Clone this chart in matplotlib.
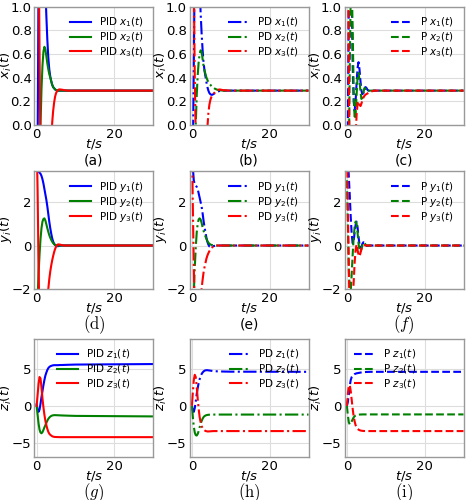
import matplotlib
matplotlib.use("Agg")
import matplotlib.pyplot as plt

plt.rcParams["font.size"] = 9.5
plt.rcParams["mathtext.fontset"] = "dejavusans"

# ______________________ time axis (s) ______________________
t = [0, 0.25, 0.5, 0.75, 1.0, 1.25, 1.5, 1.75, 2.0, 2.25, 2.5, 2.75, 3.0, 3.25,
     3.5, 3.75, 4.0, 4.25, 4.5, 4.75, 5.0, 5.25, 5.5, 5.75, 6.0, 6.5, 7.0, 7.5,
     8.0, 10.0, 30.0]

# ______________________ x_i(t) ______________________
pid_x1 = [-1.0, -0.2, 1.2, 2.0, 2.4, 2.5, 2.3, 1.9, 1.5, 1.15, 0.92, 0.72, 0.57, 0.47,
          0.41, 0.37, 0.34, 0.32, 0.31, 0.30, 0.295, 0.292, 0.29, 0.29, 0.29, 0.29,
          0.29, 0.29, 0.29, 0.29, 0.29]
pid_x2 = [-2.0, -1.6, -1.0, -0.4, 0.0, 0.3, 0.5, 0.62, 0.66, 0.64, 0.58, 0.52, 0.47, 0.43,
          0.40, 0.37, 0.34, 0.32, 0.31, 0.30, 0.295, 0.292, 0.29, 0.29, 0.29, 0.29,
          0.29, 0.29, 0.29, 0.29, 0.29]
pid_x3 = [3.0, 2.5, 1.6, 0.6, -0.3, -1.2, -1.8, -2.2, -2.3, -2.2, -2.0, -1.6, -1.3, -0.9,
          -0.5, -0.2, 0.02, 0.12, 0.19, 0.24, 0.27, 0.285, 0.295, 0.30, 0.30, 0.298,
          0.295, 0.292, 0.29, 0.29, 0.29]

pd_x1 = [-1.0, -0.3, 0.5, 1.4, 2.0, 2.2, 2.0, 1.6, 1.2, 0.95, 0.78, 0.64, 0.53, 0.46,
         0.41, 0.36, 0.32, 0.29, 0.27, 0.26, 0.255, 0.255, 0.26, 0.265, 0.27, 0.28,
         0.286, 0.29, 0.29, 0.29, 0.29]
pd_x2 = [-2.0, -1.6, -1.1, -0.5, 0.0, 0.25, 0.42, 0.53, 0.6, 0.63, 0.62, 0.56, 0.5, 0.46,
         0.43, 0.40, 0.38, 0.36, 0.35, 0.34, 0.33, 0.322, 0.316, 0.31, 0.305, 0.298,
         0.294, 0.292, 0.29, 0.29, 0.29]
pd_x3 = [3.0, 2.2, 1.2, 0.4, -0.1, -0.8, -1.5, -1.9, -2.1, -2.1, -1.9, -1.6, -1.2, -0.8,
         -0.45, -0.2, -0.02, 0.1, 0.17, 0.21, 0.235, 0.25, 0.26, 0.27, 0.28, 0.29,
         0.30, 0.298, 0.294, 0.29, 0.29]

p_x1 = [-0.5, 0.0, 1.0, 1.7, 1.6, 1.05, 0.5, 0.2, 0.12, 0.2, 0.35, 0.48, 0.53, 0.47,
        0.37, 0.29, 0.26, 0.27, 0.30, 0.32, 0.315, 0.30, 0.29, 0.29, 0.29, 0.29,
        0.29, 0.29, 0.29, 0.29, 0.29]
p_x2 = [-1.5, -1.0, -0.3, 0.5, 1.1, 1.2, 0.8, 0.3, 0.05, 0.08, 0.25, 0.4, 0.44, 0.38,
        0.28, 0.22, 0.23, 0.27, 0.31, 0.31, 0.295, 0.285, 0.285, 0.29, 0.29, 0.29,
        0.29, 0.29, 0.29, 0.29, 0.29]
p_x3 = [2.5, 1.6, 0.5, -0.5, -1.2, -1.5, -1.4, -0.9, -0.4, -0.1, 0.08, 0.18, 0.2, 0.17,
        0.16, 0.18, 0.21, 0.23, 0.245, 0.255, 0.26, 0.265, 0.27, 0.275, 0.28, 0.285,
        0.29, 0.29, 0.29, 0.29, 0.29]

# ______________________ y_i(t) ______________________
pid_y1 = [4.2, 3.7, 3.4, 3.35, 3.3, 3.2, 3.05, 2.85, 2.6, 2.35, 2.1, 1.8, 1.45, 1.1,
          0.8, 0.55, 0.33, 0.18, 0.08, 0.02, -0.02, -0.03, -0.03, -0.02, -0.01, 0.0,
          0.0, 0.0, 0.0, 0.0, 0.0]
pid_y2 = [-4.0, -2.4, -1.3, -0.4, 0.3, 0.8, 1.1, 1.22, 1.25, 1.15, 0.98, 0.8, 0.63, 0.48,
          0.36, 0.26, 0.18, 0.11, 0.06, 0.03, 0.01, 0.0, 0.0, 0.0, 0.0, 0.0,
          0.0, 0.0, 0.0, 0.0, 0.0]
pid_y3 = [5.0, 2.5, -1.0, -3.5, -5.0, -5.8, -6.0, -5.6, -5.0, -4.3, -3.5, -2.7, -2.0, -1.55,
          -1.2, -0.92, -0.68, -0.48, -0.3, -0.16, -0.05, 0.02, 0.05, 0.05, 0.04, 0.02,
          0.0, 0.0, 0.0, 0.0, 0.0]

pd_y1 = [4.5, 3.6, 3.0, 2.8, 2.75, 2.7, 2.6, 2.4, 2.2, 2.0, 1.8, 1.5, 1.15, 0.85,
         0.6, 0.35, 0.17, 0.04, -0.04, -0.06, -0.05, -0.04, -0.03, -0.02, -0.01, 0.0,
         0.0, 0.0, 0.0, 0.0, 0.0]
pd_y2 = [-5.0, -3.5, -2.2, -1.0, -0.1, 0.6, 1.0, 1.2, 1.25, 1.2, 1.05, 0.85, 0.68, 0.54,
         0.42, 0.3, 0.2, 0.13, 0.08, 0.05, 0.03, 0.02, 0.01, 0.0, 0.0, 0.0,
         0.0, 0.0, 0.0, 0.0, 0.0]
pd_y3 = [5.0, 1.8, -1.0, -3.0, -4.5, -5.0, -4.8, -4.0, -3.2, -2.5, -2.0, -1.6, -1.25, -1.0,
         -0.8, -0.6, -0.46, -0.35, -0.26, -0.18, -0.12, -0.08, -0.05, -0.03, -0.01, 0.0,
         0.0, 0.0, 0.0, 0.0, 0.0]

p_y1 = [5.0, 4.2, 3.2, 2.3, 1.3, 0.5, 0.1, 0.2, 0.6, 0.95, 1.1, 0.85, 0.4, 0.05,
        -0.1, -0.05, 0.08, 0.15, 0.12, 0.05, 0.0, -0.02, -0.01, 0.0, 0.0, 0.0,
        0.0, 0.0, 0.0, 0.0, 0.0]
p_y2 = [3.0, 1.0, -1.0, -2.3, -2.1, -1.3, -0.4, 0.35, 0.85, 1.1, 1.0, 0.6, 0.1, -0.2,
        -0.3, -0.18, 0.02, 0.13, 0.12, 0.06, 0.01, 0.0, 0.0, 0.0, 0.0, 0.0,
        0.0, 0.0, 0.0, 0.0, 0.0]
p_y3 = [5.0, 2.0, -1.0, -3.0, -3.5, -3.2, -2.5, -1.7, -0.8, -0.2, 0.05, -0.2, -0.42, -0.5,
        -0.35, -0.15, -0.05, 0.0, 0.02, 0.01, 0.0, 0.0, 0.0, 0.0, 0.0, 0.0,
        0.0, 0.0, 0.0, 0.0, 0.0]

# ______________________ z_i(t) ______________________
pid_z1 = [0.2, -0.5, -0.8, -0.5, 0.3, 1.2, 2.0, 2.8, 3.5, 4.1, 4.5, 4.85, 5.1, 5.25,
          5.35, 5.4, 5.45, 5.48, 5.5, 5.5, 5.5, 5.5, 5.5, 5.51, 5.52, 5.52,
          5.53, 5.54, 5.55, 5.58, 5.65]
pid_z2 = [0.0, -1.2, -2.4, -3.2, -3.6, -3.7, -3.55, -3.25, -2.9, -2.6, -2.3, -2.0, -1.75, -1.58,
          -1.45, -1.36, -1.3, -1.27, -1.25, -1.25, -1.25, -1.26, -1.27, -1.27, -1.28, -1.29,
          -1.3, -1.31, -1.32, -1.35, -1.42]
pid_z3 = [0.0, 1.5, 3.0, 3.9, 3.7, 2.5, 1.0, -0.2, -1.2, -2.0, -2.6, -3.1, -3.5, -3.75,
          -3.9, -4.0, -4.1, -4.15, -4.18, -4.2, -4.2, -4.21, -4.21, -4.22, -4.22, -4.22,
          -4.22, -4.22, -4.22, -4.22, -4.22]

pd_z1 = [0.0, -0.6, -0.8, -0.3, 0.6, 1.6, 2.4, 3.1, 3.6, 4.0, 4.3, 4.5, 4.65, 4.75,
         4.8, 4.82, 4.82, 4.8, 4.78, 4.76, 4.74, 4.72, 4.7, 4.69, 4.68, 4.67,
         4.66, 4.65, 4.64, 4.62, 4.6]
pd_z2 = [0.0, -1.5, -2.8, -3.6, -3.95, -4.0, -3.8, -3.4, -2.9, -2.45, -2.05, -1.75, -1.52, -1.38,
         -1.3, -1.25, -1.22, -1.2, -1.19, -1.18, -1.18, -1.17, -1.17, -1.17, -1.17, -1.17,
         -1.17, -1.17, -1.17, -1.17, -1.17]
pd_z3 = [0.0, 1.8, 3.5, 4.2, 3.9, 2.6, 1.0, -0.4, -1.5, -2.2, -2.7, -3.0, -3.2, -3.3,
         -3.38, -3.42, -3.45, -3.45, -3.44, -3.43, -3.42, -3.41, -3.4, -3.4, -3.4, -3.4,
         -3.4, -3.4, -3.4, -3.4, -3.4]

p_z1 = [0.0, 0.5, 1.5, 2.7, 3.5, 3.9, 4.1, 4.2, 4.3, 4.35, 4.4, 4.42, 4.45, 4.47,
        4.5, 4.52, 4.54, 4.55, 4.56, 4.57, 4.58, 4.58, 4.59, 4.59, 4.6, 4.6,
        4.6, 4.6, 4.6, 4.6, 4.6]
p_z2 = [0.0, -1.2, -2.2, -2.5, -2.4, -2.1, -1.8, -1.55, -1.4, -1.3, -1.25, -1.2, -1.18, -1.17,
        -1.16, -1.16, -1.15, -1.15, -1.15, -1.15, -1.15, -1.15, -1.15, -1.15, -1.15, -1.15,
        -1.15, -1.15, -1.15, -1.15, -1.15]
p_z3 = [0.0, 1.6, 2.7, 2.8, 2.0, 0.8, -0.4, -1.4, -2.1, -2.6, -2.9, -3.1, -3.2, -3.28,
        -3.32, -3.35, -3.37, -3.38, -3.39, -3.4, -3.4, -3.4, -3.4, -3.4, -3.4, -3.4,
        -3.4, -3.4, -3.4, -3.4, -3.4]

# ______________________ figure ______________________
colors = ["#0000ff", "#008000", "#ff0000"]
controllers = ["PID", "PD", "P"]
styles = ["-", "-.", "--"]
states = ["x", "y", "z"]
data = {
    "x": [[pid_x1, pid_x2, pid_x3], [pd_x1, pd_x2, pd_x3], [p_x1, p_x2, p_x3]],
    "y": [[pid_y1, pid_y2, pid_y3], [pd_y1, pd_y2, pd_y3], [p_y1, p_y2, p_y3]],
    "z": [[pid_z1, pid_z2, pid_z3], [pd_z1, pd_z2, pd_z3], [p_z1, p_z2, p_z3]],
}
ylims = {"x": (0, 1.0), "y": (-2, 3.45), "z": (-6.9, 9.1)}
yticks = {"x": [0.0, 0.2, 0.4, 0.6, 0.8, 1.0], "y": [-2, 0, 2], "z": [-5, 0, 5]}
letters = [["(a)", "(b)", "(c)"],
           [r"$\mathrm{(d)}$", "(e)", r"$(f)$"],
           [r"$(g)$", r"$\mathrm{(h)}$", r"$\mathrm{(i)}$"]]
legend_loc = [["upper right"] * 3, ["upper right"] * 3,
              ["upper center", "upper right", "upper left"]]

fig = plt.figure(figsize=(4.66, 5.0), dpi=100)
lefts = [0.0736, 0.4067, 0.7393]
bottoms = [0.75, 0.422, 0.086]
w, h = 0.2554, 0.237

for r, s in enumerate(states):
    for c, ctrl in enumerate(controllers):
        ax = fig.add_axes([lefts[c], bottoms[r], w, h])
        for k in range(3):
            ax.plot(t, data[s][c][k], color=colors[k], linestyle=styles[c], lw=1.5,
                    label=r"%s $%s_%d(t)$" % (ctrl, s, k + 1))
        ax.set_xlim(-0.6, 30)
        ax.set_ylim(*ylims[s])
        ax.set_xticks([0, 20])
        ax.set_yticks(yticks[s])
        if s == "x":
            ax.set_yticklabels(["%.1f" % v for v in yticks[s]])
        ax.grid(True, color="#dddddd", lw=0.8)
        ax.set_axisbelow(True)
        for sp in ax.spines.values():
            sp.set_color("#999999")
            sp.set_linewidth(1.0)
        ax.tick_params(length=0, pad=2)
        ax.set_xlabel(r"$t/s$", labelpad=-3)
        ax.set_ylabel(r"$%s_i(t)$" % s)
        ax.yaxis.set_label_coords(-0.17, 0.5)
        ax.legend(loc=legend_loc[r][c], frameon=False, fontsize=7.5,
                  labelspacing=0.1, handlelength=2.0, handletextpad=0.8)
        lab = letters[r][c]
        if lab.startswith("$"):
            ax.text(0.5, -0.30, lab, transform=ax.transAxes, ha="center", va="center",
                    fontsize=12, math_fontfamily="cm")
        else:
            ax.text(0.5, -0.30, lab, transform=ax.transAxes, ha="center", va="center",
                    fontsize=10)

fig.savefig("out.png", dpi=100)
